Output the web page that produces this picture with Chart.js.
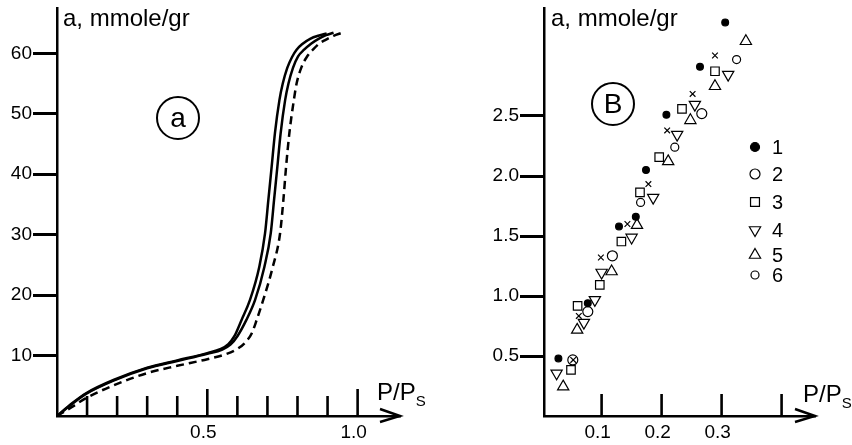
<!DOCTYPE html>
<html><head><meta charset="utf-8">
<script src="https://cdn.jsdelivr.net/npm/chart.js@4/dist/chart.umd.min.js"></script>
<style>
html,body{margin:0;padding:0;background:#fff;}
#wrap{position:relative;width:852px;height:445px;background:#fff;}
#ca{position:absolute;left:0;top:0;}
#cb{position:absolute;left:430px;top:0;}
</style></head><body>
<div id="wrap"><canvas id="ca" width="430" height="445"></canvas><canvas id="cb" width="422" height="445"></canvas></div>
<script>
// ---------- Panel (a) data ----------
const aXTicks = [0.1,0.2,0.3,0.4,0.5,0.6,0.7,0.8,0.9,1.0];
const aXTickLabels = ['','','','','0.5','','','','','1.0'];
const aYTicks = [10,20,30,40,50,60];
const aYTickLabels = ['10','20','30','40','50','60'];

const s1X = [0,0.05,0.098,0.19,0.30,0.40,0.50,0.545,0.57,0.59,0.614,0.642,0.673,0.692,0.703,0.714,0.725,0.740,0.751,0.766,0.782,0.797,0.815,0.842,0.875,0.897];
const s1Y = [0,2.1,3.8,6.0,8.0,9.2,10.4,11.1,11.9,13.2,15.9,19.2,24.7,30.2,35.7,41.2,46.8,52.3,55.0,57.6,59.4,60.6,61.5,62.4,63.0,63.3];
const s2X = [0,0.05,0.098,0.19,0.30,0.40,0.50,0.55,0.577,0.60,0.630,0.659,0.690,0.711,0.722,0.733,0.744,0.759,0.770,0.785,0.802,0.822,0.845,0.870,0.895,0.920];
const s2Y = [0,2.0,3.7,5.9,7.9,9.1,10.3,11.0,11.8,13.2,15.9,19.2,24.7,30.2,35.7,41.2,46.8,52.3,55.0,57.6,59.5,60.6,61.6,62.4,63.0,63.4];
const dX  = [0,0.05,0.098,0.19,0.30,0.40,0.50,0.56,0.60,0.625,0.648,0.665,0.686,0.718,0.742,0.753,0.762,0.773,0.788,0.797,0.814,0.831,0.853,0.872,0.892,0.920,0.948];
const dY  = [0,1.5,3.0,5.1,7.1,8.3,9.4,10.2,11.1,12.1,13.7,16.0,19.2,24.7,30.2,35.7,41.2,46.8,52.3,55.0,57.8,59.4,60.7,61.6,62.2,62.9,63.4];

// ---------- Panel (B) data ----------
const bXTicks = [0.1,0.2,0.3,0.4];
const bXTickLabels = ['0.1','0.2','0.3',''];
const bYTicks = [0.5,1.0,1.5,2.0,2.5];
const bYTickLabels = ['0.5','1.0','1.5','2.0','2.5'];
const bSeriesNames = ['1','2','3','4','5','6'];

const p1X = [0.028,0.077,0.129,0.157,0.174,0.208,0.264,0.306];
const p1Y = [0.48,0.94,1.58,1.66,2.05,2.51,2.91,3.28];
const p2X = [0.052,0.077,0.118,0.267];
const p2Y = [0.467,0.87,1.335,2.52];
const p3X = [0.049,0.060,0.097,0.133,0.164,0.196,0.234,0.289];
const p3Y = [0.384,0.918,1.093,1.454,1.863,2.158,2.559,2.873];
const p4X = [0.025,0.0705,0.0888,0.100,0.150,0.186,0.226,0.2555,0.311];
const p4Y = [0.356,0.778,0.968,1.196,1.488,1.82,2.345,2.595,2.845];
const p5X = [0.036,0.0593,0.1167,0.159,0.211,0.248,0.289,0.3405];
const p5Y = [0.245,0.718,1.204,1.591,2.122,2.464,2.748,3.123];
const p6X = [0.165,0.222,0.325];
const p6Y = [1.78,2.24,2.97];
const pxX = [0.0527,0.062,0.0988,0.143,0.178,0.2093,0.2517,0.289];
const pxY = [0.467,0.834,1.321,1.60,1.933,2.38,2.684,3.004];

const zip = (xs, ys) => xs.map((x, i) => ({x, y: ys[i]}));
const FONT = '"Liberation Sans", Arial, Helvetica, sans-serif';

function decor(cfg) {
  return {
    id: 'decor',
    afterDraw(chart) {
      const {ctx, chartArea: ca, scales} = chart;
      const xs = scales.x;
      ctx.save();
      ctx.strokeStyle = '#000'; ctx.fillStyle = '#000';
      ctx.lineWidth = 2.6; ctx.lineCap = 'butt';
      xs.ticks.forEach(t => {
        const px = xs.getPixelForValue(t.value);
        const major = cfg.majorTicks.some(m => Math.abs(m - t.value) < 1e-6);
        const len = major ? cfg.majorLen : cfg.minorLen;
        ctx.beginPath(); ctx.moveTo(px, ca.bottom); ctx.lineTo(px, ca.bottom - len); ctx.stroke();
      });
      // arrow head
      ctx.lineWidth = 2.4;
      ctx.beginPath();
      ctx.moveTo(ca.right - 20, ca.bottom - 7);
      ctx.lineTo(ca.right, ca.bottom);
      ctx.lineTo(ca.right - 20, ca.bottom + 6);
      ctx.stroke();
      // axis titles
      ctx.textAlign = 'left'; ctx.textBaseline = 'alphabetic';
      ctx.font = '24px ' + FONT;
      ctx.fillText('a, mmole/gr', ca.left + cfg.yTitleDx, 26);
      const px0 = ca.right + cfg.xTitleDx;
      ctx.fillText('P/P', px0, cfg.xTitleBase);
      const w = ctx.measureText('P/P').width;
      ctx.font = '15px ' + FONT;
      ctx.fillText('S', px0 + w, cfg.xTitleBase + 6);
      // circled letter
      ctx.lineWidth = 2;
      ctx.beginPath();
      ctx.arc(ca.left + cfg.circle.dx, cfg.circle.y, 21, 0, Math.PI * 2);
      ctx.stroke();
      ctx.font = '28px ' + FONT; ctx.textAlign = 'center'; ctx.textBaseline = 'middle';
      ctx.fillText(cfg.circle.text, ca.left + cfg.circle.dx, cfg.circle.y + 1);
      // legend
      if (cfg.legend) {
        const H = Chart.helpers;
        let row = 0;
        chart.data.datasets.forEach(ds => {
          if (!ds.label) return;
          const y = cfg.legend.rows[row];
          const mx = ca.left + cfg.legend.dx;
          ctx.fillStyle = ds.backgroundColor; ctx.strokeStyle = '#000';
          ctx.lineWidth = ds.borderWidth;
          H.drawPoint(ctx, {pointStyle: ds.pointStyle, rotation: ds.rotation || 0,
            radius: cfg.legend.radius[row], borderWidth: ds.borderWidth}, mx, y);
          ctx.fillStyle = '#000';
          ctx.font = '20px ' + FONT; ctx.textAlign = 'left'; ctx.textBaseline = 'middle';
          ctx.fillText(ds.label, mx + 17, y + 1);
          row++;
        });
      }
      ctx.restore();
    }
  };
}

function axes(xMin, xMax, xTicks, xLabels, yMin, yMax, yTicks, yLabels, yWidth) {
  return {
    x: {
      type: 'linear', min: xMin, max: xMax,
      afterBuildTicks: s => { s.ticks = xTicks.map(v => ({value: v})); },
      afterFit: s => { s.height = 29; s.paddingLeft = 0; s.paddingRight = 0; },
      ticks: {autoSkip: false, maxRotation: 0, padding: 5, labelOffset: -4, color: '#000',
        font: {family: FONT, size: 19}, callback: (v, i) => xLabels[i]},
      grid: {display: true, drawOnChartArea: false, drawTicks: false},
      border: {display: true, color: '#000', width: 2.5}
    },
    y: {
      type: 'linear', min: yMin, max: yMax,
      afterBuildTicks: s => { s.ticks = yTicks.map(v => ({value: v})); },
      afterFit: s => { s.width = yWidth; s.paddingTop = 0; s.paddingBottom = 0; },
      ticks: {autoSkip: false, padding: 1, color: '#000',
        font: {family: FONT, size: 19}, callback: (v, i) => yLabels[i]},
      grid: {display: true, drawOnChartArea: false, drawTicks: true, tickLength: 24,
        tickWidth: 3, tickColor: '#000', color: '#000'},
      border: {display: true, color: '#000', width: 2.5}
    }
  };
}

const common = {
  responsive: false, animation: false, devicePixelRatio: 1,
  events: [],
  plugins: {legend: {display: false}, tooltip: {enabled: false}}
};

const lineDs = (xs, ys, dash) => ({
  data: zip(xs, ys), showLine: true, pointRadius: 0, borderColor: '#000',
  borderWidth: 2.5, borderDash: dash, cubicInterpolationMode: 'monotone', fill: false
});

new Chart(document.getElementById('ca'), {
  type: 'scatter',
  data: {datasets: [lineDs(s1X, s1Y, []), lineDs(s2X, s2Y, []), lineDs(dX, dY, [8, 5])]},
  options: Object.assign({}, common, {
    layout: {padding: {top: 8, right: 30, left: 0, bottom: 0}},
    scales: axes(0, 1.141, aXTicks, aXTickLabels, 0, 67.5, aYTicks, aYTickLabels, 57)
  }),
  plugins: [decor({majorTicks: [0.5, 1.0], majorLen: 27, minorLen: 20,
    yTitleDx: 6, xTitleDx: -23, xTitleBase: 400, circle: {dx: 121, y: 118, text: 'a'}})]
});

const pt = (label, xs, ys, style, r, bg, rot) => ({
  label, data: zip(xs, ys), pointStyle: style, pointRadius: r, rotation: rot || 0,
  pointRotation: rot || 0, backgroundColor: bg, borderColor: '#000', borderWidth: 1.2,
  showLine: false
});
const clear = 'rgba(0,0,0,0)';

new Chart(document.getElementById('cb'), {
  type: 'scatter',
  data: {datasets: [
    pt(bSeriesNames[0], p1X, p1Y, 'circle', 3.4, '#000'),
    pt(bSeriesNames[1], p2X, p2Y, 'circle', 5, clear),
    pt(bSeriesNames[2], p3X, p3Y, 'rect', 6, clear),
    pt(bSeriesNames[3], p4X, p4Y, 'triangle', 6.5, clear, 180),
    pt(bSeriesNames[4], p5X, p5Y, 'triangle', 6.5, clear),
    pt(bSeriesNames[5], p6X, p6Y, 'circle', 4, clear),
    pt('', pxX, pxY, 'crossRot', 4, clear)
  ]},
  options: Object.assign({}, common, {
    layout: {padding: {top: 8, right: 37, left: 0, bottom: 0}},
    scales: axes(0.004, 0.4557, bXTicks, bXTickLabels, 0, 3.40, bYTicks, bYTickLabels, 114)
  }),
  plugins: [decor({majorTicks: [], majorLen: 22, minorLen: 22,
    yTitleDx: 7, xTitleDx: -12, xTitleBase: 402, circle: {dx: 69, y: 104, text: 'B'},
    legend: {dx: 211, rows: [147, 174, 202, 230, 255, 275], radius: [4.5, 5, 6.3, 6.5, 6.5, 4]}})]
});
</script>
</body></html>
